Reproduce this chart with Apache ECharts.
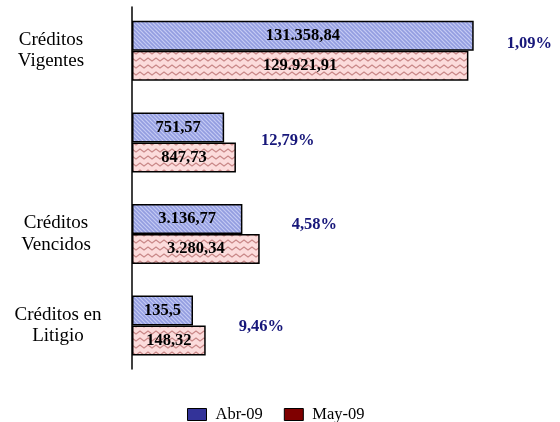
<!DOCTYPE html>
<html><head><meta charset="utf-8">
<script src="https://cdn.jsdelivr.net/npm/echarts@6/dist/echarts.min.js"></script>
<style>html,body{margin:0;padding:0;background:#fff}#c{width:560px;height:422px}</style>
</head><body><div id="c"></div><script>
const categories = ['Créditos\nVigentes', '', 'Créditos\nVencidos', 'Créditos en\nLitigio'];
const seriesNames = ['Abr-09', 'May-09'];
const abr = [131358.84, 751.57, 3136.77, 135.5];
const may = [129921.91, 847.73, 3280.34, 148.32];
const pctLabels = ['1,09%', '12,79%', '4,58%', '9,46%'];

// per-band layout: each band has its own (non-uniform) value scale, as in the original
const bands = [
  {center: 50.65, min: 38706, max: 147166, labelMargin: 81, pctDist: 33, pctDy: -7},
  {center: 142.5, min: 0, max: 3262.6, labelMargin: 77, pctDist: 25, pctDy: -2},
  {center: 234, min: 2220.6, max: 5540.1, labelMargin: 76, pctDist: 32, pctDy: -9},
  {center: 325.6, min: 73.92, max: 477.7, labelMargin: 74, pctDist: 33, pctDy: 1}
];
const FONT = 'Liberation Serif';
const PL = 132, PW = 400;

function fmt(v) {
  const parts = String(v).split('.');
  const g = parts[0].replace(/\B(?=(\d{3})+(?!\d))/g, '.');
  return parts[1] ? g + ',' + parts[1] : g;
}
function blueTile() {
  const c = document.createElement('canvas'); c.width = 8; c.height = 8;
  const x = c.getContext('2d');
  x.fillStyle = '#c4caf3'; x.fillRect(0, 0, 8, 8);
  x.strokeStyle = '#939de0'; x.lineWidth = 1.6; x.beginPath();
  for (let o = -16; o <= 16; o += 4) { x.moveTo(o - 2, -2); x.lineTo(o + 10, 10); }
  x.stroke(); return c;
}
function redTile() {
  const c = document.createElement('canvas'); c.width = 8; c.height = 7;
  const x = c.getContext('2d');
  x.fillStyle = '#fcdcdc'; x.fillRect(0, 0, 8, 7);
  x.strokeStyle = '#c98888'; x.lineWidth = 1.3; x.beginPath();
  x.moveTo(-4, 2); x.lineTo(0, 5); x.lineTo(4, 2); x.lineTo(8, 5); x.lineTo(12, 2);
  x.stroke(); return c;
}
const patterns = [{image: blueTile(), repeat: 'repeat'}, {image: redTile(), repeat: 'repeat'}];

const grid = [{left: PL, top: 7, width: PW, height: 362}];
const xAxis = [{type: 'value', gridIndex: 0, show: false}];
const yAxis = [{type: 'value', gridIndex: 0, axisLine: {show: true, onZero: false, lineStyle: {color: '#000', width: 1.5}},
  axisLabel: {show: false}, axisTick: {show: false}, splitLine: {show: false}}];
const series = [];
bands.forEach((b, i) => {
  const gi = i + 1;
  grid.push({left: PL, top: b.center - 45, width: PW, height: 90});
  xAxis.push({type: 'value', gridIndex: gi, min: b.min, max: b.max, startValue: b.min, show: false, splitLine: {show: false}});
  yAxis.push({type: 'category', gridIndex: gi, data: [categories[i]], axisLine: {show: false}, axisTick: {show: false},
    axisLabel: {fontFamily: FONT, fontSize: 19, color: '#000', lineHeight: 21.5, align: 'center', margin: b.labelMargin, padding: [6, 0, 0, 0]}});
  [abr, may].forEach((arr, k) => {
    series.push({
      type: 'bar', name: seriesNames[k], xAxisIndex: gi, yAxisIndex: gi, data: [arr[i]],
      barWidth: 30, barGap: '0%', clip: true,
      itemStyle: {color: patterns[k], borderColor: '#000', borderWidth: 1.5},
      label: {show: true, position: 'inside', formatter: p => fmt(p.value), fontFamily: FONT, fontWeight: 'bold', fontSize: 16.5, color: '#000'},
      emphasis: {disabled: true}
    });
  });
  series.push({
    type: 'scatter', xAxisIndex: gi, yAxisIndex: gi, data: [[Math.max(abr[i], may[i]), 0]],
    symbolSize: 0, itemStyle: {color: '#000080', opacity: 1}, silent: true, z: 1,
    emphasis: {disabled: true},
    label: {show: true, position: 'right', distance: b.pctDist, offset: [0, b.pctDy], formatter: pctLabels[i],
      fontFamily: FONT, fontWeight: 'bold', fontSize: 16.5, color: '#17177a', opacity: 1}
  });
});

const chart = echarts.init(document.getElementById('c'), null, {renderer: 'canvas'});
chart.setOption({
  animation: false,
  backgroundColor: '#fff',
  legend: {
    left: 182, top: 401, icon: 'rect', itemWidth: 19, itemHeight: 12, itemGap: 21,
    data: [
      {name: seriesNames[0], itemStyle: {color: '#333399', borderColor: '#000', borderWidth: 1}},
      {name: seriesNames[1], itemStyle: {color: '#7f0000', borderColor: '#000', borderWidth: 1}}
    ],
    textStyle: {fontFamily: FONT, fontSize: 16.5, color: '#000', padding: [0, 0, 0, 4]}
  },
  grid, xAxis, yAxis, series
});
</script></body></html>
